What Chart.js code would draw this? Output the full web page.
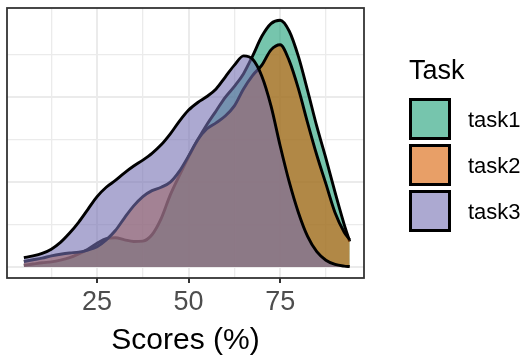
<!DOCTYPE html>
<html><head><meta charset="utf-8">
<script src="https://cdn.jsdelivr.net/npm/chart.js@4.4.1/dist/chart.umd.min.js"></script>
<style>html,body{margin:0;padding:0;background:#fff;}canvas{display:block;}</style>
</head><body>
<canvas id="c" width="527" height="362"></canvas>
<script>
// ---- data (density x 1000) ----
const scores = [5, 7.5, 10, 12.5, 15, 17.5, 20, 22.5, 25, 27.5, 30, 32.5, 35, 37.5, 40, 42.5, 45, 47.5, 50, 52.5, 55, 57.5, 60, 62.5, 65, 67.5, 70, 72.5, 75, 77.5, 80, 82.5, 85, 87.5, 90, 92.5, 94];
const task1 = [0.2, 0.35, 0.5, 0.6, 0.8, 1.1, 1.55, 2.1, 2.8, 3.35, 3.45, 3.2, 3.0, 3.05, 3.8, 5.7, 8.5, 10.8, 13.0, 15.0, 16.8, 18.4, 20.0, 21.3, 22.8, 24.9, 27.2, 28.7, 29.1, 27.8, 24.8, 20.8, 16.6, 12.8, 8.8, 5.0, 3.0];
const task2 = [0.65, 0.85, 1.05, 1.3, 1.5, 1.65, 1.75, 2.0, 2.4, 3.2, 4.3, 5.8, 7.2, 8.3, 9.0, 9.4, 10.0, 11.3, 13.1, 15.0, 16.3, 17.0, 17.8, 19.0, 21.0, 22.6, 23.8, 25.6, 26.2, 24.3, 21.0, 17.0, 13.2, 9.8, 6.4, 4.1, 3.2];
const task3 = [1.1, 1.3, 1.6, 2.1, 2.9, 4.0, 5.3, 6.8, 8.3, 9.4, 10.2, 11.1, 11.9, 12.6, 13.4, 14.4, 15.7, 17.2, 18.5, 19.4, 20.1, 21.0, 22.4, 23.8, 24.9, 24.5, 22.5, 19.0, 14.3, 10.0, 6.4, 3.6, 1.8, 0.8, 0.3, 0.1, 0.05];
const seriesNames = ['task1', 'task2', 'task3'];
const legendTitle = 'Task';
const xTitle = 'Scores (%)';
const xMajorTicks = [25, 50, 75];
const xMinorTicks = [12.5, 37.5, 62.5, 87.5];
const yMajorTicks = [0, 10, 20];
const yMinorTicks = [5, 15, 25];

// ---- styles ----
const FONT = '"Liberation Sans", Arial, Helvetica, sans-serif';
const fills = ['rgba(27,158,119,0.6)', 'rgba(217,95,2,0.6)', 'rgba(117,112,179,0.6)'];
const series = [task1, task2, task3];

const datasets = series.map((vals, i) => ({
  label: seriesNames[i],
  data: scores.map((s, j) => ({x: s, y: vals[j]})),
  backgroundColor: fills[i],
  borderColor: '#000',
  borderWidth: 2.9,
  fill: 'origin',
  pointRadius: 0,
  cubicInterpolationMode: 'monotone',
  order: series.length - i
}));

const isMajor = (v, list) => list.some(t => Math.abs(t - v) < 1e-6);

const frame = {
  id: 'frame',
  afterDatasetsDraw(chart) {
    const {ctx, chartArea: a} = chart;
    ctx.save();
    ctx.strokeStyle = '#333333';
    ctx.lineWidth = 1.8;
    ctx.strokeRect(a.left, a.top, a.right - a.left, a.bottom - a.top);
    ctx.restore();
  }
};

const ggLegend = {
  id: 'ggLegend',
  afterDraw(chart) {
    const ctx = chart.ctx;
    ctx.save();
    ctx.textAlign = 'left';
    ctx.textBaseline = 'alphabetic';
    ctx.fillStyle = '#000';
    ctx.font = '27px ' + FONT;
    ctx.fillText(legendTitle, 409, 79);
    chart.data.datasets.forEach((ds, i) => {
      const x = 409, y = 98 + i * 46, s = 42;
      ctx.fillStyle = '#fff';
      ctx.fillRect(x, y, s, s);
      ctx.fillStyle = ds.backgroundColor;
      ctx.fillRect(x, y, s, s);
      ctx.lineWidth = 3;
      ctx.strokeStyle = '#000';
      ctx.strokeRect(x + 1.5, y + 1.5, s - 3, s - 3);
      ctx.fillStyle = '#000';
      ctx.font = '22px ' + FONT;
      ctx.textBaseline = 'middle';
      ctx.fillText(ds.label, 468, y + s / 2 + 2);
      ctx.textBaseline = 'alphabetic';
    });
    ctx.restore();
  }
};

new Chart(document.getElementById('c'), {
  type: 'line',
  data: {datasets},
  plugins: [frame, ggLegend],
  options: {
    responsive: false,
    animation: false,
    devicePixelRatio: 1,
    layout: {padding: {left: 7, right: 163, top: 8, bottom: 0}},
    plugins: {legend: {display: false}, tooltip: {enabled: false}},
    scales: {
      x: {
        type: 'linear',
        min: 0.4,
        max: 97.9,
        afterBuildTicks: (sc) => { sc.ticks = [...xMinorTicks, ...xMajorTicks].sort((a, b) => a - b).map(v => ({value: v})); },
        afterFit: (sc) => { sc.height = 84; },
        border: {display: false},
        grid: {
          color: '#ebebeb',
          lineWidth: (c) => isMajor(c.tick.value, xMajorTicks) ? 2 : 1.3,
          tickColor: (c) => isMajor(c.tick.value, xMajorTicks) ? '#333333' : 'rgba(0,0,0,0)',
          tickLength: 5,
          tickWidth: 2
        },
        ticks: {
          autoSkip: false,
          maxRotation: 0,
          padding: 3,
          color: '#4d4d4d',
          font: {family: FONT, size: 27},
          callback: (v) => isMajor(v, xMajorTicks) ? String(v) : ''
        },
        title: {display: true, text: xTitle, color: '#000', font: {family: FONT, size: 30}, padding: {top: 0, bottom: 3}}
      },
      y: {
        type: 'linear',
        min: -1.3,
        max: 30.54,
        afterBuildTicks: (sc) => { sc.ticks = [...yMajorTicks, ...yMinorTicks].sort((a, b) => a - b).map(v => ({value: v})); },
        afterFit: (sc) => { sc.width = 0; },
        border: {display: false},
        grid: {
          drawTicks: false,
          color: '#ebebeb',
          lineWidth: (c) => isMajor(c.tick.value, yMajorTicks) ? 2 : 1.3
        },
        ticks: {display: false}
      }
    }
  }
});
</script>
</body></html>
